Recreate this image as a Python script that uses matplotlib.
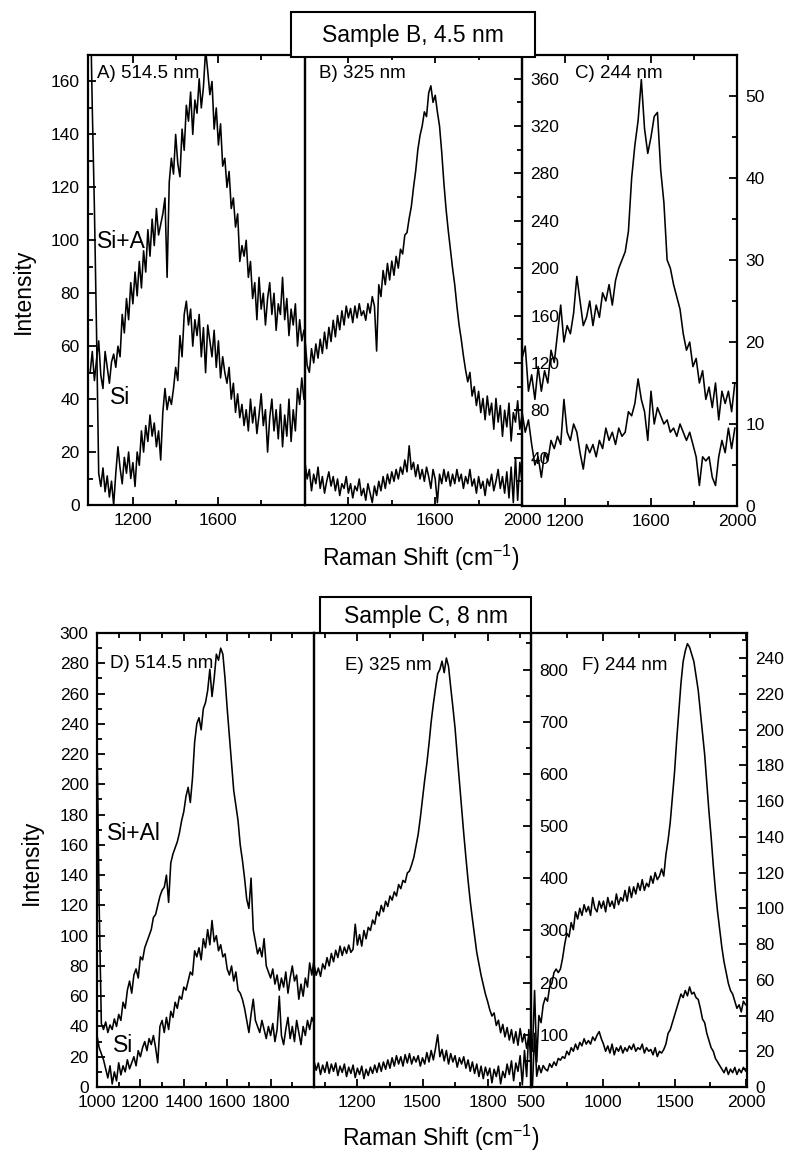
import matplotlib.pyplot as plt
import numpy as np
from matplotlib.patches import Rectangle
from matplotlib.ticker import MultipleLocator

plt.rcParams['font.family'] = ['Liberation Sans', 'DejaVu Sans']
plt.rcParams['mathtext.default'] = 'regular'

# ---------------- Sample B, 4.5 nm ----------------
# A) 514.5 nm, Raman shift 1000..2000 step 10
shift_a = np.arange(1000, 2001, 10)
a_sial = [50, 58, 47, 55, 62, 49, 44, 58, 52, 46,
          54, 57, 52, 60, 56, 72, 65, 78, 70, 84,
          76, 88, 79, 92, 82, 96, 88, 104, 94, 108,
          98, 112, 102, 106, 110, 116, 86, 122, 131, 125,
          140, 129, 124, 142, 134, 151, 145, 156, 140, 153,
          148, 161, 150, 158, 172, 164, 155, 160, 142, 150,
          136, 144, 128, 131, 120, 126, 112, 116, 105, 110,
          92, 98, 94, 100, 86, 92, 78, 84, 70, 86,
          74, 80, 68, 78, 84, 72, 80, 66, 76, 72,
          86, 70, 78, 64, 74, 68, 76, 60, 70, 62,
          66]
a_si = [195, 150, 112, 65, 12, 7, 14, 5, 11, 3,
        9, 0, 12, 22, 14, 8, 18, 12, 20, 10,
        16, 7, 20, 15, 28, 20, 30, 24, 34, 26,
        31, 22, 28, 17, 35, 44, 36, 41, 38, 44,
        52, 47, 64, 56, 72, 77, 68, 74, 60, 70,
        64, 72, 56, 67, 50, 68, 62, 56, 66, 52,
        62, 48, 56, 50, 46, 52, 40, 46, 35, 42,
        33, 38, 30, 36, 28, 40, 31, 37, 27, 34,
        42, 30, 36, 20, 33, 40, 28, 36, 25, 38,
        22, 34, 26, 40, 24, 36, 28, 44, 38, 48,
        40]

# B) 325 nm
shift_b = np.arange(1000, 2001, 10)
b_sial = [140, 118, 112, 132, 120, 136, 124, 140, 128, 146,
          132, 150, 138, 156, 142, 160, 148, 164, 152, 168,
          158, 166, 154, 168, 158, 170, 160, 164, 156, 170,
          162, 176, 168, 130, 186, 176, 198, 186, 204, 190,
          206, 194, 210, 200, 216, 212, 228, 230, 242, 252,
          268, 282, 300, 312, 320, 332, 328, 348, 354, 340,
          346, 332, 320, 298, 272, 250, 232, 216, 200, 186,
          168, 152, 140, 126, 114, 104, 112, 92, 100, 84,
          96, 78, 90, 72, 92, 76, 86, 64, 90, 70,
          84, 58, 80, 66, 86, 54, 78, 70, 88, 64,
          76]
b_si = [36, 22, 30, 12, 26, 18, 32, 14, 24, 10,
        20, 28, 16, 24, 12, 22, 8, 18, 14, 24,
        10, 18, 6, 16, 12, 22, 8, 14, 4, 18,
        10, 2, 16, 8, 20, 12, 24, 14, 26, 18,
        28, 20, 30, 22, 32, 26, 38, 28, 50, 30,
        36, 24, 34, 22, 30, 20, 32, 24, 14, 30,
        22, 2, 26, 18, 30, 20, 28, 16, 26, 18,
        30, 20, 26, 14, 24, 18, 30, 16, 22, 10,
        24, 14, 20, 8, 22, 16, 26, 12, 20, 30,
        14, 24, 10, 28, 6, 32, 2, 40, 4, 36,
        20]

# C) 244 nm, step 15
shift_c = np.arange(1000, 2000, 15)
c_sial = [18, 19.5, 14, 16, 13, 17, 14, 16.5, 15, 19,
          17.5, 21, 24.5, 20, 22, 21, 23.5, 28, 25, 22,
          23, 25, 22, 24.5, 23, 26, 25, 27, 24.5, 27.5,
          29, 30, 31, 33.5, 40, 44, 47, 52, 46, 43,
          45, 47.5, 48, 41, 37, 30, 29, 27, 25.5, 24,
          21, 19, 20, 17, 18, 15, 16.5, 13, 14.5, 12,
          15, 10.5, 14, 12.5, 14, 11.5, 15]
c_si = [11.5, 9, 10.5, 7.5, 5, 6, 3.5, 6.5, 5.5, 8,
        7, 8.5, 7.5, 13, 9, 8, 10, 9, 6.5, 4.5,
        7.5, 6.5, 7.5, 6, 8, 7, 9.5, 8, 9, 7.5,
        9.5, 8.5, 9, 11.5, 11, 12.5, 15.5, 13, 11.5, 8,
        14, 10, 12, 11, 10, 10.5, 9, 9.5, 8.5, 10,
        9, 8, 9, 7.5, 6, 2.5, 6, 5.5, 6, 3.5,
        2.5, 6, 8, 6.5, 9.5, 7, 9.5]

# ---------------- Sample C, 8 nm ----------------
# D) 514.5 nm
shift_d = np.arange(1000, 2001, 10)
d_sial = [232, 120, 42, 38, 43, 36, 41, 38, 45, 40,
          48, 44, 56, 52, 64, 70, 62, 74, 78, 72,
          86, 84, 92, 96, 100, 104, 112, 114, 120, 126,
          130, 132, 140, 122, 148, 154, 158, 162, 168, 176,
          182, 192, 198, 188, 204, 228, 240, 244, 236, 250,
          254, 262, 276, 258, 270, 286, 282, 290, 286, 270,
          250, 232, 214, 196, 186, 176, 160, 150, 138, 124,
          118, 138, 104, 96, 88, 92, 86, 98, 80, 76,
          72, 78, 68, 74, 64, 72, 66, 76, 62, 72,
          80, 70, 74, 58, 68, 60, 72, 66, 82, 74,
          84]
d_si = [34, 26, 22, 18, 12, 6, 14, 2, 10, 4,
        16, 8, 14, 10, 18, 12, 16, 20, 14, 24,
        20, 26, 30, 24, 32, 28, 34, 26, 16, 40,
        44, 36, 46, 38, 50, 46, 56, 52, 60, 58,
        66, 64, 70, 76, 74, 90, 86, 92, 84, 98,
        92, 104, 94, 110, 96, 100, 90, 94, 86, 88,
        78, 74, 80, 70, 76, 64, 62, 58, 52, 44,
        36, 48, 58, 44, 40, 36, 44, 38, 32, 40,
        34, 42, 30, 38, 60, 34, 28, 38, 46, 32,
        40, 30, 44, 36, 28, 40, 34, 44, 38, 46,
        42]

# E) 325 nm
shift_e = np.arange(1000, 2001, 10)
e_sial = [236, 214, 228, 212, 236, 226, 248, 232, 256, 240,
          262, 248, 270, 252, 268, 256, 272, 258, 264, 312,
          272, 292, 270, 300, 284, 306, 300, 320, 312, 336,
          328, 348, 336, 356, 346, 366, 358, 374, 366, 388,
          380, 396, 392, 410, 414, 426, 440, 462, 484, 516,
          552, 588, 620, 658, 700, 734, 764, 792, 800, 816,
          794, 822, 806, 766, 728, 688, 636, 586, 536, 486,
          440, 396, 356, 322, 290, 258, 236, 214, 196, 178,
          164, 148, 136, 142, 118, 128, 104, 120, 96, 114,
          90, 110, 84, 106, 80, 112, 86, 102, 74, 98,
          92]
e_si = [50, 32, 46, 24, 42, 28, 48, 26, 44, 30,
        46, 22, 40, 28, 44, 20, 38, 26, 42, 18,
        36, 24, 40, 16, 34, 22, 38, 26, 42, 28,
        46, 30, 48, 34, 52, 36, 56, 40, 60, 44,
        58, 40, 62, 46, 64, 44, 58, 48, 60, 40,
        56, 44, 66, 48, 70, 52, 74, 100, 58, 72,
        50, 70, 44, 64, 48, 60, 38, 56, 44, 58,
        36, 52, 30, 48, 26, 44, 20, 40, 16, 38,
        22, 36, 8, 34, 20, 40, 6, 30, 18, 44,
        24, 50, 12, 46, 30, 60, 4, 70, 20, 110,
        40]

# F) 244 nm, step 15
shift_f = np.arange(510, 2000, 15)
f_sial = [20, 54, 14, 40, 36, 46, 50, 48, 56, 58,
          64, 66, 64, 66, 72, 80, 86, 84, 92, 88,
          98, 94, 100, 96, 102, 98, 101, 96, 106, 100,
          98, 104, 100, 104, 98, 106, 101, 104, 100, 108,
          102, 106, 104, 110, 104, 112, 106, 112, 108, 114,
          110, 116, 110, 114, 112, 118, 114, 120, 116, 118,
          122, 118, 130, 138, 148, 162, 176, 194, 210, 226,
          238, 244, 248, 246, 242, 238, 230, 222, 210, 198,
          186, 170, 154, 140, 124, 110, 98, 88, 78, 70,
          64, 58, 54, 52, 48, 44, 46, 42, 48, 46]
f_si = [0, 30, 6, 12, 8, 12, 10, 9, 13, 11,
        14, 12, 16, 15, 17, 16, 20, 18, 22, 20,
        24, 21, 25, 23, 27, 24, 26, 24, 28, 26,
        29, 31, 27, 24, 20, 23, 19, 24, 18, 22,
        20, 23, 19, 22, 20, 23, 21, 24, 20, 22,
        21, 24, 19, 22, 20, 21, 18, 22, 17, 20,
        19, 21, 24, 30, 32, 36, 40, 44, 48, 52,
        50, 54, 51, 56, 52, 53, 50, 49, 44, 38,
        36, 30, 26, 22, 20, 16, 14, 12, 10, 8,
        11, 7, 10, 8, 11, 7, 10, 8, 11, 9]

W, H = 788, 1158
fig = plt.figure(figsize=(W / 100, H / 100), dpi=100)


def px_box(x0, x1, y0, y1):
    return [x0 / W, 1 - y1 / H, (x1 - x0) / W, (y1 - y0) / H]


def fx(x):
    return x / W


def fy(y):
    return 1 - y / H


def style(ax, side):
    ax.patch.set_visible(False)
    for s in ax.spines.values():
        s.set_linewidth(1.6)
    ax.tick_params(which='both', direction='in', top=True, bottom=True,
                   labelsize=12.5, width=1.3, pad=6)
    ax.tick_params(which='major', length=6)
    ax.tick_params(which='minor', length=3.5)
    if side == 'left':
        ax.tick_params(axis='y', which='both', left=True, right=False,
                       labelleft=True, labelright=False)
    else:
        ax.tick_params(axis='y', which='both', left=False, right=True,
                       labelleft=False, labelright=True)


line_kw = dict(color='black', lw=1.15)

# top row
ax_a = fig.add_axes(px_box(88, 305, 55, 505))
ax_b = fig.add_axes(px_box(305, 522, 55, 505))
ax_c = fig.add_axes(px_box(522, 737, 55, 506))

ax_a.plot(shift_a, a_sial, **line_kw)
ax_a.plot(shift_a, a_si, **line_kw)
ax_a.set_xlim(990, 2005)
ax_a.set_ylim(0, 170)
ax_a.set_xticks([1200, 1600])
ax_a.set_xticks([1400, 1800], minor=True)
ax_a.yaxis.set_major_locator(MultipleLocator(20))
ax_a.yaxis.set_minor_locator(MultipleLocator(10))
style(ax_a, 'left')

ax_b.plot(shift_b, b_sial, **line_kw)
ax_b.plot(shift_b, b_si, **line_kw)
ax_b.set_xlim(1000, 2000)
ax_b.set_ylim(0, 380)
ax_b.set_xticks([1200, 1600, 2000])
ax_b.set_xticks([1400, 1800], minor=True)
ax_b.set_yticks(np.arange(40, 361, 40))
ax_b.yaxis.set_minor_locator(MultipleLocator(20))
style(ax_b, 'right')

ax_c.plot(shift_c, c_sial, **line_kw)
ax_c.plot(shift_c, c_si, **line_kw)
ax_c.set_xlim(1000, 2000)
ax_c.set_ylim(0, 55)
ax_c.set_xticks([1200, 1600, 2000])
ax_c.set_xticks([1400, 1800], minor=True)
ax_c.yaxis.set_major_locator(MultipleLocator(10))
ax_c.yaxis.set_minor_locator(MultipleLocator(5))
style(ax_c, 'right')

# bottom row
ax_d = fig.add_axes(px_box(97, 314, 633, 1087))
ax_e = fig.add_axes(px_box(314, 531, 633, 1087))
ax_f = fig.add_axes(px_box(531, 747, 633, 1087))

ax_d.plot(shift_d, d_sial, **line_kw)
ax_d.plot(shift_d, d_si, **line_kw)
ax_d.set_xlim(1000, 2000)
ax_d.set_ylim(0, 300)
ax_d.set_xticks([1000, 1200, 1400, 1600, 1800])
ax_d.set_xticks(np.arange(1100, 2000, 200), minor=True)
ax_d.yaxis.set_major_locator(MultipleLocator(20))
ax_d.yaxis.set_minor_locator(MultipleLocator(10))
style(ax_d, 'left')

ax_e.plot(shift_e, e_sial, **line_kw)
ax_e.plot(shift_e, e_si, **line_kw)
ax_e.set_xlim(1000, 2000)
ax_e.set_ylim(0, 870)
ax_e.set_xticks([1200, 1500, 1800])
ax_e.set_xticks([1050, 1350, 1650, 1950], minor=True)
ax_e.set_yticks(np.arange(100, 801, 100))
ax_e.yaxis.set_minor_locator(MultipleLocator(50))
style(ax_e, 'right')

ax_f.plot(shift_f, f_sial, **line_kw)
ax_f.plot(shift_f, f_si, **line_kw)
ax_f.set_xlim(500, 2005)
ax_f.set_ylim(0, 254)
ax_f.set_xticks([500, 1000, 1500, 2000])
ax_f.set_xticks([750, 1250, 1750], minor=True)
ax_f.yaxis.set_major_locator(MultipleLocator(20))
ax_f.yaxis.set_minor_locator(MultipleLocator(10))
style(ax_f, 'right')

# sample boxes
for (x0, x1, y0, y1, label) in [(291, 535, 12, 57, 'Sample B, 4.5 nm'),
                                (320, 531, 597, 633, 'Sample C, 8 nm')]:
    fig.add_artist(Rectangle((fx(x0), fy(y1)), (x1 - x0) / W, (y1 - y0) / H,
                             transform=fig.transFigure, facecolor='white',
                             edgecolor='black', lw=1.5, zorder=5))
    fig.text(fx((x0 + x1) / 2), fy((y0 + y1) / 2 + 1), label, ha='center',
             va='center', fontsize=16.5, zorder=6)

# panel labels
for (x, y, s) in [(97, 74, 'A) 514.5 nm'), (319, 74, 'B) 325 nm'),
                  (575, 73, 'C) 244 nm'), (110, 664, 'D) 514.5 nm'),
                  (345, 665, 'E) 325 nm'), (582, 665, 'F) 244 nm')]:
    fig.text(fx(x), fy(y), s, ha='left', va='center', fontsize=13.5)

# curve labels
for (x, y, s) in [(97, 242, 'Si+A'), (110, 398, 'Si'),
                  (107, 834, 'Si+Al'), (113, 1046, 'Si')]:
    fig.text(fx(x), fy(y), s, ha='left', va='center', fontsize=16.5)

# axis titles
fig.text(fx(23), fy(291), 'Intensity', rotation=90, ha='center', va='center', fontsize=16.5)
fig.text(fx(31), fy(862), 'Intensity', rotation=90, ha='center', va='center', fontsize=16.5)
fig.text(fx(421), fy(558), 'Raman Shift (cm$^{-1}$)', ha='center', va='center', fontsize=16.5)
fig.text(fx(441), fy(1138), 'Raman Shift (cm$^{-1}$)', ha='center', va='center', fontsize=16.5)

fig.savefig('out.png', dpi=100)
